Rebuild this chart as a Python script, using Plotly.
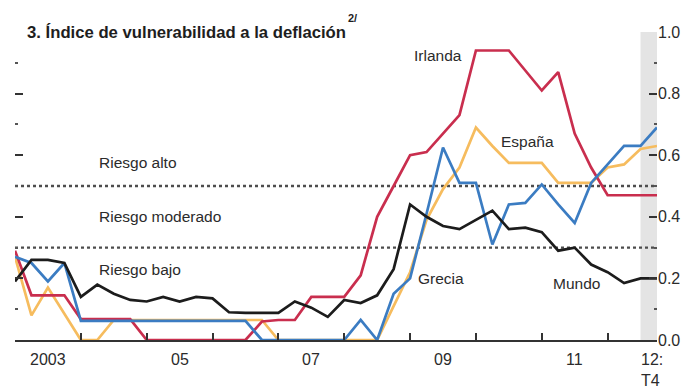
import plotly.graph_objects as go

# Quarterly periods 2003T1 .. 2012T4 (decimal-year positions)
years = list(range(2003, 2013))
quarters = [y + q * 0.25 for y in years for q in range(4)]

irlanda = [0.29, 0.145, 0.145, 0.145, 0.068, 0.068, 0.068, 0.068, 0.0, 0.0,
           0.0, 0.0, 0.0, 0.0, 0.0, 0.06, 0.065, 0.065, 0.14, 0.14,
           0.14, 0.21, 0.40, 0.50, 0.60, 0.61, 0.67, 0.73, 0.94, 0.94,
           0.94, 0.875, 0.81, 0.87, 0.67, 0.56, 0.47, 0.47, 0.47, 0.47]
espana = [0.27, 0.08, 0.17, 0.085, 0.0, 0.0, 0.065, 0.065, 0.065, 0.065,
          0.065, 0.065, 0.065, 0.065, 0.065, 0.065, 0.0, 0.0, 0.0, 0.0,
          0.0, 0.0, 0.0, 0.11, 0.22, 0.39, 0.49, 0.56, 0.69, 0.63,
          0.575, 0.575, 0.575, 0.51, 0.51, 0.51, 0.56, 0.57, 0.62, 0.63]
grecia = [0.27, 0.25, 0.19, 0.25, 0.062, 0.062, 0.062, 0.062, 0.062, 0.062,
          0.062, 0.062, 0.062, 0.062, 0.062, 0.0, 0.0, 0.0, 0.0, 0.0,
          0.0, 0.065, 0.0, 0.15, 0.20, 0.41, 0.625, 0.51, 0.51, 0.31,
          0.44, 0.445, 0.505, 0.44, 0.38, 0.51, 0.57, 0.63, 0.63, 0.69]
mundo = [0.19, 0.26, 0.26, 0.25, 0.14, 0.18, 0.15, 0.13, 0.125, 0.14,
         0.125, 0.14, 0.135, 0.09, 0.088, 0.088, 0.088, 0.125, 0.105, 0.075,
         0.13, 0.12, 0.145, 0.23, 0.44, 0.40, 0.37, 0.36, 0.39, 0.42,
         0.36, 0.365, 0.35, 0.29, 0.30, 0.245, 0.22, 0.185, 0.20, 0.20]

risk_levels = [0.5, 0.3]
risk_labels = ["Riesgo alto", "Riesgo moderado", "Riesgo bajo"]
risk_label_y = [0.575, 0.40, 0.23]

x_labels = ["2003", "05", "07", "09", "11", "12:<br>T4"]
x_label_pos = [2003.5, 2005.5, 2007.5, 2009.5, 2011.5, 2012.68]

y_ticks = [0.0, 0.2, 0.4, 0.6, 0.8, 1.0]
y_ticktext = ["0.0", "0.2", "0.4", "0.6", "0.8", "1.0"]

series = [
    ("España", espana, "#F6BC5E"),
    ("Irlanda", irlanda, "#C92E4E"),
    ("Grecia", grecia, "#3B7CC2"),
    ("Mundo", mundo, "#1C1C1C"),
]
series_labels = [("Irlanda", 2009.42, 0.925), ("España", 2010.79, 0.643),
                 ("Grecia", 2009.47, 0.20), ("Mundo", 2011.52, 0.185)]

FONT = "Liberation Sans, Arial, sans-serif"
TXT = "#2b2b2b"

fig = go.Figure()

# forecast / latest-quarter shading
fig.add_vrect(x0=quarters[-2], x1=quarters[-1], fillcolor="#E4E4E4",
              line_width=0, layer="below")

for lvl in risk_levels:
    fig.add_trace(go.Scatter(x=[quarters[0], quarters[-1]], y=[lvl, lvl],
                             mode="lines", line=dict(color="#4d4d4d", width=2.4, dash="dot"),
                             hoverinfo="skip", showlegend=False))

for name, vals, col in series:
    fig.add_trace(go.Scatter(x=quarters, y=vals, mode="lines", name=name,
                             line=dict(color=col, width=2.7), showlegend=False))

for txt, yy in zip(risk_labels, risk_label_y):
    fig.add_annotation(x=2004.25, y=yy, text=txt, showarrow=False, xanchor="left",
                       font=dict(family=FONT, size=15.5, color=TXT))

for txt, xx, yy in series_labels:
    fig.add_annotation(x=xx, y=yy, text=txt, showarrow=False, xanchor="center",
                       font=dict(family=FONT, size=15.5, color=TXT))

for txt, xx in zip(x_labels, x_label_pos):
    fig.add_annotation(x=xx, y=-0.03, yref="paper", text=txt, showarrow=False,
                       xanchor="center", yanchor="top", align="left",
                       font=dict(family=FONT, size=16, color=TXT))

fig.add_annotation(x=10 / 642, xref="x domain", y=1.0, yref="paper",
                   text="<b>3. Índice de vulnerabilidad a la deflación</b>",
                   showarrow=False, xanchor="left", yanchor="middle",
                   font=dict(family=FONT, size=16.7, color="#1e1e1e"))
fig.add_annotation(x=331 / 642, xref="x domain", y=1.045, yref="paper",
                   text="<b>2/</b>", showarrow=False, xanchor="left", yanchor="middle",
                   font=dict(family=FONT, size=11, color="#1e1e1e"))

# page body has an 8px margin: figure is sized to fill the rest of the window
fig.update_layout(
    width=686, height=384,
    margin=dict(l=7, r=37, t=24, b=52),
    paper_bgcolor="white", plot_bgcolor="white",
    xaxis=dict(range=[quarters[0], quarters[-1]], tickvals=years, showticklabels=False,
               ticks="inside", ticklen=7, tickwidth=1.5, tickcolor="#333333",
               showline=True, linecolor="#333333", linewidth=1.5,
               showgrid=False, zeroline=False),
    yaxis=dict(range=[0, 1], side="right", tickvals=y_ticks, ticktext=y_ticktext,
               ticks="inside", ticklen=8, tickwidth=2, tickcolor="#333333",
               minor=dict(dtick=0.1, ticks="inside", ticklen=3, tickwidth=2, tickcolor="#555555"),
               mirror="ticks", showline=False, showgrid=False, zeroline=False,
               tickfont=dict(family=FONT, size=16, color=TXT)),
)

fig.write_html("out.html")
